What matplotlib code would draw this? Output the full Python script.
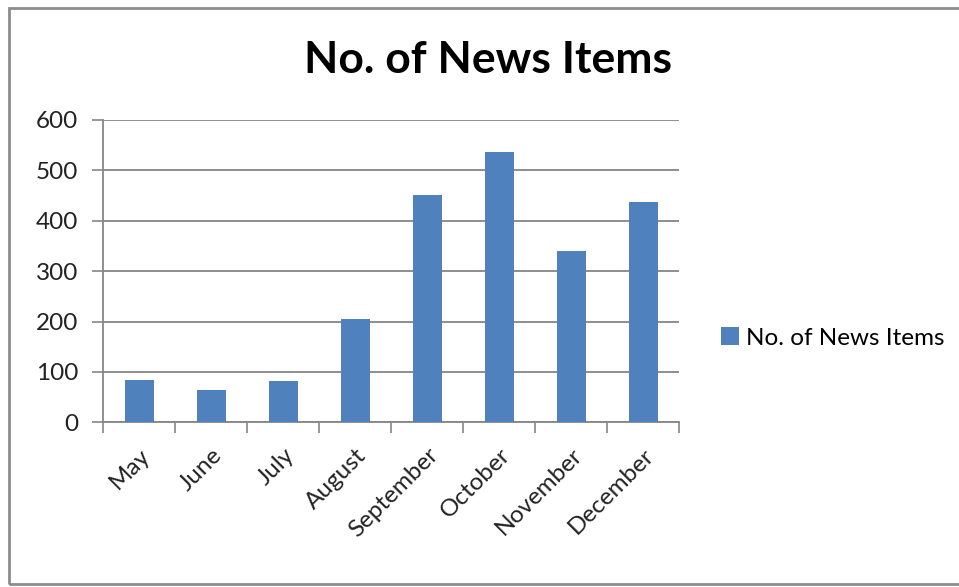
import matplotlib
matplotlib.use("Agg")
import matplotlib.pyplot as plt
from matplotlib.patches import Rectangle
from matplotlib.ticker import FixedLocator

months = ["May", "June", "July", "August", "September", "October", "November", "December"]
news_items = [84, 64, 82, 206, 452, 536, 340, 438]
y_ticks = [0, 100, 200, 300, 400, 500, 600]

series_name = "No. of News Items"
title = "No. of News Items"

W, H = 959, 587
fig = plt.figure(figsize=(W / 100, H / 100), dpi=100)
fig.patch.set_facecolor("white")

font = ["Lato", "DejaVu Sans"]
grey = "#868686"
bar_color = "#4F81BD"

# chart-area border
fig.add_artist(Rectangle((8.5 / W, 1 - 584 / H), (W + 10) / W, (584 - 8) / H,
                         transform=fig.transFigure, fill=False,
                         edgecolor="#8c8c8c", linewidth=2))

ax = fig.add_axes([103.3 / W, 1 - 422.3 / H, (679.3 - 103.3) / W, (422.3 - 120) / H])
x = range(len(months))
ax.bar(x, news_items, width=0.4, color=bar_color, zorder=3, label=series_name)

ax.set_xlim(-0.5, len(months) - 0.5)
ax.set_ylim(0, 600)
ax.set_yticks(y_ticks)
ax.set_yticklabels([str(v) for v in y_ticks], fontsize=17.5, family=font, color="#222222")
ax.yaxis.grid(True, color=grey, linewidth=1.3, zorder=0)

ax.set_xticks(list(x))
ax.set_xticklabels(months, rotation=45, ha="right", rotation_mode="anchor",
                   fontsize=17.5, family=font, color="#222222")
ax.tick_params(axis="x", length=0, pad=16)
ax.xaxis.set_minor_locator(FixedLocator([i - 0.5 for i in range(len(months) + 1)]))
ax.tick_params(axis="x", which="minor", length=8, width=1.2, color=grey, direction="out")
ax.tick_params(axis="y", length=8, width=1.2, color=grey, direction="out", pad=10)

for side in ("top", "right"):
    ax.spines[side].set_visible(False)
for side in ("left", "bottom"):
    ax.spines[side].set_color(grey)
    ax.spines[side].set_linewidth(1.3)

fig.text(488 / W, 1 - 60 / H, title, ha="center", va="center",
         fontsize=32, fontweight="bold", family=font, color="black")

leg = fig.legend(loc="center left", bbox_to_anchor=(699 / W, 1 - 338 / H),
                 frameon=False, prop={"family": font, "size": 17.5},
                 handlelength=0.75, handleheight=0.75, handletextpad=0.3)

fig.savefig("out.png", dpi=100)
